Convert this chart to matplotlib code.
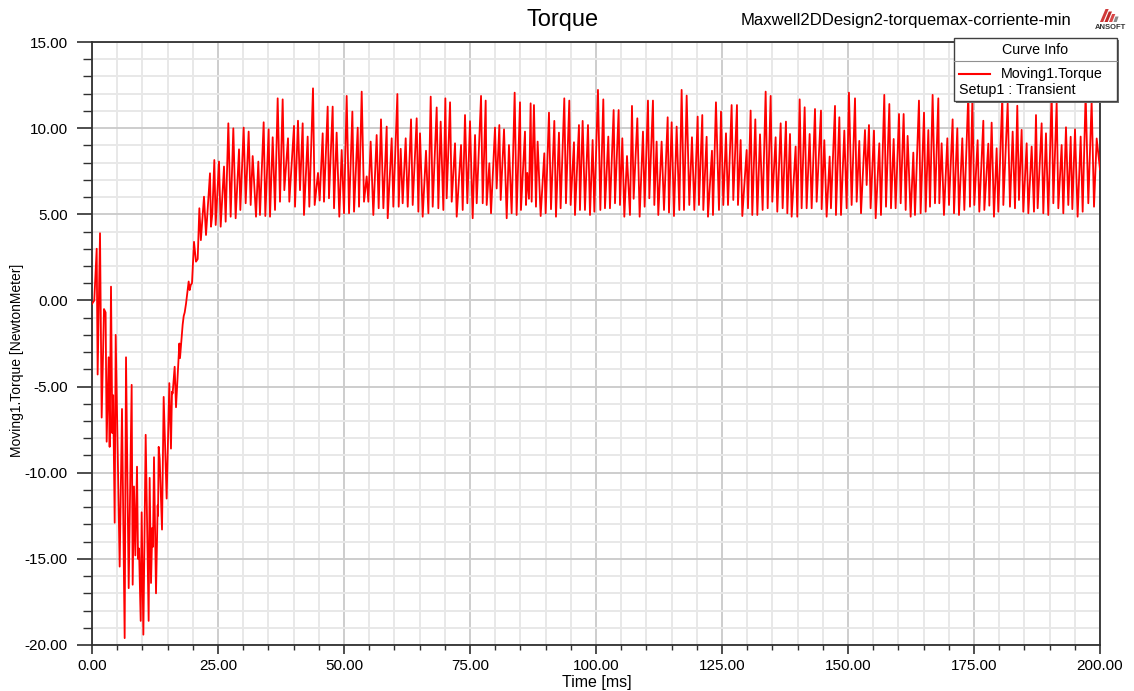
import matplotlib
matplotlib.use("Agg")
import matplotlib.pyplot as plt
from matplotlib.patches import Rectangle, Polygon
from matplotlib.lines import Line2D
from matplotlib.ticker import MultipleLocator, FormatStrFormatter

# ---------------- data ----------------
time_startup = [
    0.0, 0.45, 0.93, 1.12, 1.59, 1.92, 2.38, 2.7, 2.91, 3.3,
    3.5, 3.77, 4.03, 4.2, 4.5, 4.7, 5.49, 5.95, 6.48, 6.75,
    7.28, 7.87, 8.07, 8.33, 8.6, 8.93, 9.13, 9.33, 9.66, 9.85,
    10.19, 10.65, 11.24, 11.44, 11.71, 11.97, 12.1, 12.3, 12.7, 13.03,
    13.1, 13.23, 13.43, 13.89, 14.22, 14.81, 15.34, 15.67, 15.87, 16.0,
    16.4, 16.67, 17.33, 17.46, 17.99, 18.2, 18.39, 18.65, 19.18, 19.38,
    19.6, 19.84, 20.24, 20.63, 20.97]
torque_startup = [
    -0.2, 0.0, 3.0, -4.3, 3.9, -6.8, -0.5, -0.7, -8.2, -3.3,
    -8.5, 0.8, -7.7, -5.5, -12.9, -2.0, -15.45, -6.3, -19.6, -3.3,
    -16.7, -4.9, -16.5, -10.8, -14.8, -9.65, -15.0, -14.4, -18.6, -12.3,
    -19.4, -7.8, -18.6, -10.3, -16.4, -13.2, -14.3, -9.1, -17.0, -11.9,
    -12.5, -8.5, -9.2, -13.3, -5.6, -11.5, -4.8, -8.6, -5.3, -5.4,
    -3.85, -6.2, -2.5, -3.35, -1.4, -0.9, -0.7, -0.2, 1.1, 0.6,
    0.9, 1.0, 3.4, 2.25, 2.4]

time_b = [
    21.3, 21.6, 22.22, 22.62, 23.41, 23.61, 23.88, 24.27, 24.54, 25.2,
    25.53, 26.19, 26.52, 27.05, 27.51, 28.04, 28.5, 29.17, 29.43, 30.09,
    30.49, 31.08, 31.48, 31.88, 32.54, 33.0, 33.33, 34.06, 34.39, 35.05,
    35.32, 35.85, 36.31, 36.84, 37.3, 37.83, 38.16, 38.89, 39.15, 40.08,
    40.28, 40.87, 41.27, 41.8, 42.06, 42.79, 43.12, 43.85, 44.18, 44.84,
    45.17, 45.77, 46.03, 46.76, 47.02, 47.75, 48.02, 48.54, 49.07, 49.54,
    50.0]
torque_b = [
    5.35, 3.5, 6.02, 3.8, 7.38, 4.28, 5.06, 8.15, 4.38, 8.06,
    4.28, 7.77, 4.57, 10.28, 4.86, 9.99, 4.77, 8.77, 5.25, 10.03,
    5.64, 9.8, 5.54, 8.38, 4.86, 8.06, 4.96, 10.34, 4.9, 9.93,
    4.86, 9.47, 5.25, 11.73, 5.73, 11.67, 6.4, 9.41, 5.73, 10.13,
    5.44, 10.43, 6.4, 10.28, 4.96, 9.51, 5.44, 12.31, 5.54, 7.4,
    5.8, 9.7, 5.73, 11.25, 5.93, 11.25, 5.35, 9.74, 4.86, 8.73,
    5.06]

time_c = [
    50.53, 51.0, 51.66, 51.99, 52.72, 52.98, 53.51, 53.97, 54.5, 54.83,
    55.29, 55.82, 56.48, 56.88, 57.34, 57.81, 58.47, 58.67, 59.46, 59.79,
    60.59, 60.85, 61.25, 61.64, 62.24, 62.64, 63.3, 63.63, 64.42, 64.75,
    65.08, 65.61, 66.27, 66.74, 67.2, 67.6, 68.39, 68.72, 69.18, 69.71,
    70.11, 70.37, 71.04, 71.37, 72.03, 72.36, 73.22, 73.55, 74.01, 74.47,
    75.0, 75.53, 76.0, 76.33, 77.19, 77.52, 78.11, 78.31, 78.84, 79.17,
    79.96, 80.29, 80.82, 81.09, 81.75, 82.28]
torque_c = [
    11.87, 5.06, 10.96, 5.15, 10.03, 5.44, 12.12, 5.73, 7.2, 5.73,
    9.22, 4.96, 9.6, 5.35, 10.51, 5.35, 10.09, 4.77, 9.41, 5.44,
    11.98, 5.44, 8.8, 5.64, 9.41, 5.44, 10.51, 5.54, 10.57, 5.15,
    9.7, 4.86, 8.69, 5.06, 11.83, 5.44, 11.2, 5.35, 10.38, 5.25,
    11.73, 5.93, 11.5, 5.73, 9.12, 4.86, 9.02, 5.25, 10.76, 5.64,
    10.4, 4.77, 9.6, 5.64, 11.87, 5.64, 11.6, 5.54, 7.96, 5.06,
    10.03, 6.5, 10.18, 5.83, 9.93, 4.77]

time_d = [
    82.73, 83.26, 83.86, 84.25, 84.92, 85.11, 85.91, 86.11, 86.37, 86.7,
    87.03, 87.23, 87.69, 88.09, 88.42, 89.02, 89.74, 90.01, 90.67, 91.07,
    91.73, 92.06, 92.65, 92.98, 93.71, 94.04, 94.7, 94.97, 95.63, 95.83,
    96.62, 96.82, 97.35, 97.81, 98.41, 98.81, 99.33, 99.67, 100.39, 100.86,
    101.45, 101.78, 102.44, 102.77, 103.5, 103.77, 104.49, 104.76, 105.22, 105.62,
    106.15, 106.74, 107.14, 107.47, 108.2, 108.66, 109.32, 109.65, 110.31, 110.58,
    111.3, 111.57]
torque_d = [
    9.02, 5.06, 12.06, 4.96, 11.5, 5.25, 9.8, 5.54, 7.4, 5.9,
    11.44, 5.73, 11.34, 5.44, 9.22, 4.9, 8.54, 5.06, 10.9, 5.3,
    10.42, 4.86, 9.74, 5.35, 11.73, 5.64, 11.6, 5.54, 9.18, 4.96,
    10.18, 5.25, 10.42, 5.25, 10.18, 4.96, 9.31, 5.15, 12.22, 5.25,
    11.67, 5.35, 9.51, 5.35, 11.05, 5.64, 11.05, 5.54, 9.41, 4.86,
    8.38, 4.96, 11.29, 5.9, 10.57, 4.86, 9.8, 5.44, 11.6, 5.93,
    11.6, 5.54]

time_e = [
    112.03, 112.36, 113.02, 113.49, 114.22, 114.48, 115.01, 115.47, 116.0, 116.53,
    116.99, 117.46, 117.99, 118.51, 119.04, 119.51, 120.17, 120.43, 121.09, 121.29,
    121.95, 122.22, 123.01, 123.21, 123.8, 124.4, 124.8, 125.26, 125.79, 126.19,
    126.91, 127.24, 127.97, 128.17, 128.7, 129.03, 129.89, 130.15, 130.68, 131.01,
    131.61, 132.01, 132.54, 133.06, 133.66, 134.06, 134.65, 134.98, 135.64, 135.97,
    136.64, 137.03, 137.69, 137.96, 138.49, 138.82, 139.61, 139.94]
torque_e = [
    9.22, 4.96, 9.22, 5.25, 10.63, 5.1, 10.34, 4.9, 10.09, 5.25,
    12.22, 5.25, 11.89, 5.54, 9.47, 5.25, 10.67, 5.54, 10.76, 5.25,
    9.5, 4.86, 8.69, 4.96, 11.5, 5.25, 10.96, 5.54, 9.7, 5.54,
    11.34, 5.83, 11.34, 5.54, 9.31, 4.9, 8.73, 5.35, 11.02, 4.96,
    10.51, 4.96, 9.64, 5.25, 12.12, 5.35, 11.87, 5.73, 9.47, 5.15,
    10.28, 5.35, 10.38, 5.06, 9.66, 4.86, 8.93, 4.86]

time_f = [
    140.41, 140.8, 141.4, 141.79, 142.39, 142.79, 143.45, 143.78, 144.64, 144.77,
    145.3, 145.76, 146.36, 146.62, 147.42, 147.61, 148.28, 148.61, 149.27, 149.73,
    150.19, 150.72, 151.39, 151.72, 152.24, 152.58, 153.37, 153.7, 154.16, 154.49,
    155.15, 155.49, 156.21, 156.54, 157.2, 157.54, 158.2, 158.53, 159.06, 159.45,
    160.12, 160.45, 161.04, 161.44, 161.83, 162.43, 162.96, 163.29, 164.08, 164.41,
    165.08, 165.41, 165.94, 166.27, 166.79, 167.26, 167.92, 168.12, 168.58, 169.04]
torque_f = [
    11.67, 5.35, 11.21, 5.35, 9.66, 5.35, 11.11, 5.73, 11.02, 5.3,
    9.3, 4.86, 8.35, 5.35, 11.29, 4.96, 10.63, 4.96, 9.86, 5.35,
    12.06, 5.54, 11.73, 5.73, 9.26, 5.06, 9.89, 6.7, 10.18, 5.35,
    9.86, 4.77, 9.12, 4.96, 11.93, 5.44, 11.4, 5.35, 9.37, 5.35,
    10.82, 5.64, 10.82, 5.25, 9.55, 4.86, 8.58, 4.96, 11.6, 5.06,
    10.9, 5.15, 9.89, 5.44, 11.93, 5.64, 11.73, 5.64, 9.12, 4.96]

time_g = [
    169.71, 170.04, 170.76, 171.03, 171.69, 172.02, 172.68, 173.08, 173.87, 174.2,
    174.67, 175.06, 175.72, 176.05, 176.85, 177.05, 177.84, 178.04, 178.5, 178.96,
    179.49, 179.82, 180.62, 180.82, 181.68, 182.14, 182.67, 183.13, 183.59, 183.92,
    184.45, 184.78, 185.45, 185.78, 186.44, 186.9, 187.3, 187.63, 188.42, 188.75,
    189.28, 189.74, 190.41, 190.74, 191.4, 191.73, 192.39, 192.72, 193.25, 193.71,
    194.18, 194.51, 195.04, 195.56, 196.16, 196.56, 197.15, 197.68, 198.34, 198.81,
    199.34, 200.0]
torque_g = [
    9.41, 5.54, 10.51, 5.06, 9.99, 4.96, 9.41, 5.25, 12.0, 5.44,
    11.6, 5.54, 9.3, 5.15, 10.43, 5.25, 9.1, 5.5, 10.32, 4.86,
    8.83, 5.15, 11.9, 5.54, 11.44, 5.44, 9.8, 5.35, 11.3, 5.83,
    9.9, 5.15, 9.12, 5.06, 8.93, 5.15, 10.76, 5.35, 10.28, 5.06,
    9.7, 4.96, 12.0, 5.64, 11.5, 5.35, 9.02, 5.06, 10.05, 5.54,
    9.5, 5.3, 9.93, 4.86, 9.51, 5.15, 12.0, 5.64, 11.6, 5.44,
    9.4, 7.6]

x_ticks = [0, 25, 50, 75, 100, 125, 150, 175, 200]
y_ticks = [-20, -15, -10, -5, 0, 5, 10, 15]

title = "Torque"
design_name = "Maxwell2DDesign2-torquemax-corriente-min"
x_label = "Time [ms]"
y_label = "Moving1.Torque [NewtonMeter]"
legend_title = "Curve Info"
series_name = "Moving1.Torque"
setup_name = "Setup1 : Transient"

time_ms = time_startup + time_b + time_c + time_d + time_e + time_f + time_g
torque_nm = torque_startup + torque_b + torque_c + torque_d + torque_e + torque_f + torque_g
n = min(len(time_ms), len(torque_nm))
time_ms, torque_nm = time_ms[:n], torque_nm[:n]

# ---------------- figure ----------------
plt.rcParams['font.family'] = ['Liberation Sans', 'DejaVu Sans']
W, H = 1134, 691
fig = plt.figure(figsize=(W / 100, H / 100), dpi=100)
fig.patch.set_facecolor('white')


def fx(px):
    return px / W


def fy(py):
    return 1 - py / H


ax = fig.add_axes([fx(92), fy(645), (1100 - 92) / W, (645 - 42) / H])
ax.plot(time_ms, torque_nm, color='#ff0000', lw=1.3, zorder=3)
ax.set_xlim(0, 200)
ax.set_ylim(-20, 15)
ax.set_xticks(x_ticks)
ax.set_yticks(y_ticks)
ax.xaxis.set_minor_locator(MultipleLocator(5))
ax.yaxis.set_minor_locator(MultipleLocator(1))
ax.xaxis.set_major_formatter(FormatStrFormatter('%.2f'))
ax.yaxis.set_major_formatter(FormatStrFormatter('%.2f'))
ax.set_axisbelow(True)
ax.grid(which='major', color='#cdcdcd', lw=1.4)
ax.grid(which='minor', color='#e8e8e8', lw=1.4)
for s in ax.spines.values():
    s.set_color('#303030')
    s.set_linewidth(1.3)
ax.tick_params(axis='y', which='major', length=10.8, width=1.2, pad=6.5,
               labelsize=11, color='#303030', labelcolor='black')
ax.tick_params(axis='y', which='minor', length=6.5, width=1.0, color='#303030')
ax.tick_params(axis='x', which='major', length=6.5, width=1.2, pad=3.6,
               labelsize=11, color='#303030', labelcolor='black')
ax.tick_params(axis='x', which='minor', length=3.6, width=1.0, color='#303030')

# titles and axis labels
fig.text(fx(563), fy(20), title, fontsize=17, ha='center', va='center')
fig.text(fx(906), fy(21), design_name, fontsize=12, ha='center', va='center')
fig.text(fx(597), fy(682), x_label, fontsize=11.5, ha='center', va='center')
fig.text(fx(17), fy(360), y_label, fontsize=10, ha='center', va='center', rotation=90)

# legend box ("Curve Info")
lx0, ly0, lx1, ly1 = 954, 38, 1117, 101
fig.add_artist(Rectangle((fx(lx0 + 2), fy(ly1 + 2)), (lx1 - lx0) / W, (ly1 - ly0) / H,
                         transform=fig.transFigure, facecolor='#707070', edgecolor='none', zorder=5))
fig.add_artist(Rectangle((fx(lx0), fy(ly1)), (lx1 - lx0) / W, (ly1 - ly0) / H,
                         transform=fig.transFigure, facecolor='white', edgecolor='#404040',
                         lw=1.0, zorder=6))
fig.add_artist(Line2D([fx(lx0), fx(lx1)], [fy(61), fy(61)], transform=fig.transFigure,
                      color='#909090', lw=0.8, zorder=7))
fig.text(fx(1035), fy(50), legend_title, fontsize=10.3, ha='center', va='center', zorder=8)
fig.add_artist(Line2D([fx(959), fx(990)], [fy(74), fy(74)], transform=fig.transFigure,
                      color='#ff0000', lw=1.5, zorder=8))
fig.text(fx(1001), fy(74), series_name, fontsize=10.3, ha='left', va='center', zorder=8)
fig.text(fx(959), fy(90), setup_name, fontsize=10.3, ha='left', va='center', zorder=8)

# small ANSOFT logo: triangle made of diagonal stripes
stripe_colors = ['#d03a3a', '#c02a2a', '#d84848', '#8a8a8a']
for i, c in enumerate(stripe_colors):
    x0 = 1100 + i * 4.5
    fig.add_artist(Polygon([(fx(x0), fy(22)), (fx(x0 + 3.2), fy(22)),
                            (fx(x0 + 3.2 + 5.5 - i * 1.2), fy(9 + i * 2.5)),
                            (fx(x0 + 5.5 - i * 1.2), fy(9 + i * 2.5))],
                           closed=True, transform=fig.transFigure, facecolor=c,
                           edgecolor='none', zorder=6))
fig.text(fx(1110), fy(27.5), "ANSOFT", fontsize=5.5, fontweight='bold', color='#333333',
         ha='center', va='center')

fig.savefig('out.png', dpi=100)
